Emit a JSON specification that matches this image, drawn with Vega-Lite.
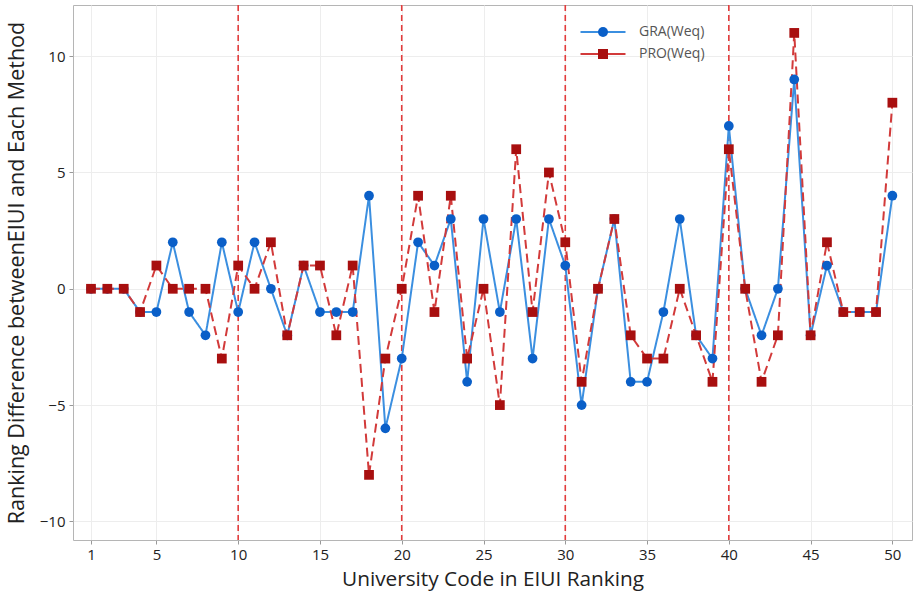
{
  "$schema": "https://vega.github.io/schema/vega-lite/v6.json",
  "width": 839,
  "height": 535,
  "autosize": {"type": "none"},
  "padding": {"left": 73, "top": 5, "right": 4, "bottom": 59},
  "background": "white",
  "config": {
    "font": "Open Sans",
    "view": {"stroke": "#b5b5b5", "strokeWidth": 1},
    "axis": {
      "gridColor": "#ededed",
      "gridWidth": 1,
      "domain": false,
      "tickColor": "#999",
      "tickSize": 4,
      "labelFont": "Open Sans",
      "labelFontSize": 15,
      "labelColor": "#222",
      "titleFont": "Open Sans",
      "titleFontWeight": "normal",
      "titleColor": "#222"
    }
  },
  "datasets": {
    "main": [
      {"code": 1, "series": "GRA(Weq)", "value": 0},
      {"code": 2, "series": "GRA(Weq)", "value": 0},
      {"code": 3, "series": "GRA(Weq)", "value": 0},
      {"code": 4, "series": "GRA(Weq)", "value": -1},
      {"code": 5, "series": "GRA(Weq)", "value": -1},
      {"code": 6, "series": "GRA(Weq)", "value": 2},
      {"code": 7, "series": "GRA(Weq)", "value": -1},
      {"code": 8, "series": "GRA(Weq)", "value": -2},
      {"code": 9, "series": "GRA(Weq)", "value": 2},
      {"code": 10, "series": "GRA(Weq)", "value": -1},
      {"code": 11, "series": "GRA(Weq)", "value": 2},
      {"code": 12, "series": "GRA(Weq)", "value": 0},
      {"code": 13, "series": "GRA(Weq)", "value": -2},
      {"code": 14, "series": "GRA(Weq)", "value": 1},
      {"code": 15, "series": "GRA(Weq)", "value": -1},
      {"code": 16, "series": "GRA(Weq)", "value": -1},
      {"code": 17, "series": "GRA(Weq)", "value": -1},
      {"code": 18, "series": "GRA(Weq)", "value": 4},
      {"code": 19, "series": "GRA(Weq)", "value": -6},
      {"code": 20, "series": "GRA(Weq)", "value": -3},
      {"code": 21, "series": "GRA(Weq)", "value": 2},
      {"code": 22, "series": "GRA(Weq)", "value": 1},
      {"code": 23, "series": "GRA(Weq)", "value": 3},
      {"code": 24, "series": "GRA(Weq)", "value": -4},
      {"code": 25, "series": "GRA(Weq)", "value": 3},
      {"code": 26, "series": "GRA(Weq)", "value": -1},
      {"code": 27, "series": "GRA(Weq)", "value": 3},
      {"code": 28, "series": "GRA(Weq)", "value": -3},
      {"code": 29, "series": "GRA(Weq)", "value": 3},
      {"code": 30, "series": "GRA(Weq)", "value": 1},
      {"code": 31, "series": "GRA(Weq)", "value": -5},
      {"code": 32, "series": "GRA(Weq)", "value": 0},
      {"code": 33, "series": "GRA(Weq)", "value": 3},
      {"code": 34, "series": "GRA(Weq)", "value": -4},
      {"code": 35, "series": "GRA(Weq)", "value": -4},
      {"code": 36, "series": "GRA(Weq)", "value": -1},
      {"code": 37, "series": "GRA(Weq)", "value": 3},
      {"code": 38, "series": "GRA(Weq)", "value": -2},
      {"code": 39, "series": "GRA(Weq)", "value": -3},
      {"code": 40, "series": "GRA(Weq)", "value": 7},
      {"code": 41, "series": "GRA(Weq)", "value": 0},
      {"code": 42, "series": "GRA(Weq)", "value": -2},
      {"code": 43, "series": "GRA(Weq)", "value": 0},
      {"code": 44, "series": "GRA(Weq)", "value": 9},
      {"code": 45, "series": "GRA(Weq)", "value": -2},
      {"code": 46, "series": "GRA(Weq)", "value": 1},
      {"code": 47, "series": "GRA(Weq)", "value": -1},
      {"code": 48, "series": "GRA(Weq)", "value": -1},
      {"code": 49, "series": "GRA(Weq)", "value": -1},
      {"code": 50, "series": "GRA(Weq)", "value": 4},
      {"code": 1, "series": "PRO(Weq)", "value": 0},
      {"code": 2, "series": "PRO(Weq)", "value": 0},
      {"code": 3, "series": "PRO(Weq)", "value": 0},
      {"code": 4, "series": "PRO(Weq)", "value": -1},
      {"code": 5, "series": "PRO(Weq)", "value": 1},
      {"code": 6, "series": "PRO(Weq)", "value": 0},
      {"code": 7, "series": "PRO(Weq)", "value": 0},
      {"code": 8, "series": "PRO(Weq)", "value": 0},
      {"code": 9, "series": "PRO(Weq)", "value": -3},
      {"code": 10, "series": "PRO(Weq)", "value": 1},
      {"code": 11, "series": "PRO(Weq)", "value": 0},
      {"code": 12, "series": "PRO(Weq)", "value": 2},
      {"code": 13, "series": "PRO(Weq)", "value": -2},
      {"code": 14, "series": "PRO(Weq)", "value": 1},
      {"code": 15, "series": "PRO(Weq)", "value": 1},
      {"code": 16, "series": "PRO(Weq)", "value": -2},
      {"code": 17, "series": "PRO(Weq)", "value": 1},
      {"code": 18, "series": "PRO(Weq)", "value": -8},
      {"code": 19, "series": "PRO(Weq)", "value": -3},
      {"code": 20, "series": "PRO(Weq)", "value": 0},
      {"code": 21, "series": "PRO(Weq)", "value": 4},
      {"code": 22, "series": "PRO(Weq)", "value": -1},
      {"code": 23, "series": "PRO(Weq)", "value": 4},
      {"code": 24, "series": "PRO(Weq)", "value": -3},
      {"code": 25, "series": "PRO(Weq)", "value": 0},
      {"code": 26, "series": "PRO(Weq)", "value": -5},
      {"code": 27, "series": "PRO(Weq)", "value": 6},
      {"code": 28, "series": "PRO(Weq)", "value": -1},
      {"code": 29, "series": "PRO(Weq)", "value": 5},
      {"code": 30, "series": "PRO(Weq)", "value": 2},
      {"code": 31, "series": "PRO(Weq)", "value": -4},
      {"code": 32, "series": "PRO(Weq)", "value": 0},
      {"code": 33, "series": "PRO(Weq)", "value": 3},
      {"code": 34, "series": "PRO(Weq)", "value": -2},
      {"code": 35, "series": "PRO(Weq)", "value": -3},
      {"code": 36, "series": "PRO(Weq)", "value": -3},
      {"code": 37, "series": "PRO(Weq)", "value": 0},
      {"code": 38, "series": "PRO(Weq)", "value": -2},
      {"code": 39, "series": "PRO(Weq)", "value": -4},
      {"code": 40, "series": "PRO(Weq)", "value": 6},
      {"code": 41, "series": "PRO(Weq)", "value": 0},
      {"code": 42, "series": "PRO(Weq)", "value": -4},
      {"code": 43, "series": "PRO(Weq)", "value": -2},
      {"code": 44, "series": "PRO(Weq)", "value": 11},
      {"code": 45, "series": "PRO(Weq)", "value": -2},
      {"code": 46, "series": "PRO(Weq)", "value": 2},
      {"code": 47, "series": "PRO(Weq)", "value": -1},
      {"code": 48, "series": "PRO(Weq)", "value": -1},
      {"code": 49, "series": "PRO(Weq)", "value": -1},
      {"code": 50, "series": "PRO(Weq)", "value": 8}
    ],
    "dividers": [{"code": 10}, {"code": 20}, {"code": 30}, {"code": 40}]
  },
  "layer": [
    {
      "data": {"name": "dividers"},
      "mark": {"type": "rule", "color": "#e23b3b", "strokeDash": [6, 4], "strokeWidth": 1.6},
      "encoding": {
        "x": {
          "field": "code", "type": "quantitative",
          "scale": {"domain": [-0.1, 51.2], "nice": false, "zero": false},
          "axis": {
            "title": "University Code in EIUI Ranking",
            "titleFontSize": 20.8,
            "titlePadding": 7,
            "labelPadding": 3,
            "values": [1, 5, 10, 15, 20, 25, 30, 35, 40, 45, 50]
          }
        }
      }
    },
    {
      "data": {"name": "main"},
      "mark": {"type": "line", "strokeWidth": 2},
      "encoding": {
        "x": {"field": "code", "type": "quantitative"},
        "y": {
          "field": "value", "type": "quantitative",
          "scale": {"domain": [-10.8, 12.2], "nice": false, "zero": false},
          "axis": {
            "title": "Ranking Difference betweenEIUI and Each Method",
            "titleFontSize": 21.5,
            "titlePadding": 11,
            "labelPadding": 4,
            "values": [-10, -5, 0, 5, 10]
          }
        },
        "stroke": {
          "field": "series", "type": "nominal",
          "scale": {"domain": ["GRA(Weq)", "PRO(Weq)"], "range": ["#3b8fe0", "#d23a3a"]},
          "legend": {
            "title": null,
            "orient": "none",
            "legendX": 523,
            "legendY": 20,
            "padding": 0,
            "symbolType": "M-4.5,0H4.5",
            "symbolSize": 100,
            "symbolStrokeWidth": 2,
            "symbolDash": [1, 0],
            "labelOffset": 29,
            "rowPadding": 8,
            "labelFontSize": 14,
            "labelColor": "#555",
            "labelFont": "Open Sans"
          }
        },
        "strokeDash": {
          "condition": {"test": "datum.series === 'PRO(Weq)'", "value": [9, 5]},
          "value": [1, 0]
        }
      }
    },
    {
      "data": {"name": "main"},
      "mark": {"type": "point", "filled": true, "opacity": 1, "size": 95},
      "encoding": {
        "x": {"field": "code", "type": "quantitative"},
        "y": {"field": "value", "type": "quantitative"},
        "fill": {
          "field": "series", "type": "nominal",
          "scale": {"range": ["#0a5fc8", "#a80f0f"]},
          "legend": {
            "title": null,
            "orient": "none",
            "legendX": 523,
            "legendY": 20,
            "padding": 0,
            "symbolSize": 100,
            "symbolStrokeWidth": 2,
            "labelOffset": 29,
            "rowPadding": 4,
            "labelFontSize": 14,
            "labelColor": "#555",
            "labelFont": "Open Sans",
            "labelExpr": "''"
          }
        },
        "shape": {
          "field": "series", "type": "nominal",
          "scale": {"range": ["circle", "square"]}
        }
      }
    }
  ]
}
